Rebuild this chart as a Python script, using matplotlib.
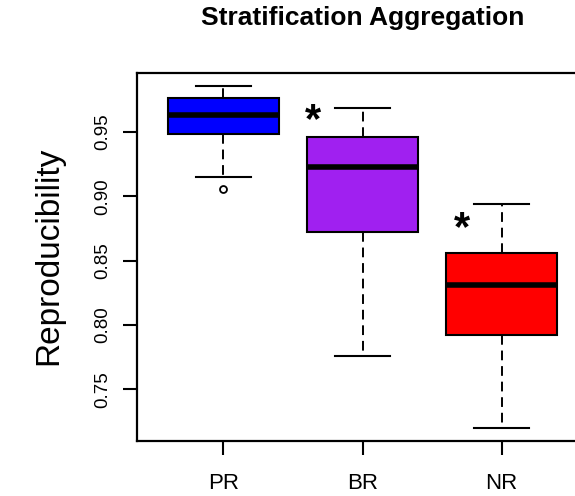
import matplotlib
matplotlib.use("Agg")
import matplotlib.pyplot as plt

categories = ["PR", "BR", "NR"]
whislo = [0.9148, 0.7755, 0.7202]
q1 = [0.9484, 0.8722, 0.7920]
med = [0.9630, 0.9226, 0.8308]
q3 = [0.9767, 0.9463, 0.8557]
whishi = [0.9858, 0.9689, 0.8944]
fliers = [[0.9059], [], []]
colors = ["#0000FF", "#A020F0", "#FF0000"]
yticks = [0.75, 0.80, 0.85, 0.90, 0.95]
ytick_labels = ["0.75", "0.80", "0.85", "0.90", "0.95"]
star_x = [1.645, 2.715]
star_y = [0.9496, 0.866]

plt.rcParams["font.family"] = ["Liberation Sans", "DejaVu Sans"]

fig = plt.figure(figsize=(5.75, 4.96), dpi=100)
ax = fig.add_axes([0.2388, 0.1115, 0.7833, 0.7419])

stats = []
for i, c in enumerate(categories):
    stats.append(dict(label=c, whislo=whislo[i], q1=q1[i], med=med[i],
                      q3=q3[i], whishi=whishi[i], fliers=fliers[i]))

bp = ax.bxp(stats, positions=[1, 2, 3], widths=0.8, patch_artist=True,
            boxprops=dict(linewidth=1.5, edgecolor="black"),
            medianprops=dict(color="black", linewidth=4.0, solid_capstyle="butt"),
            whiskerprops=dict(color="black", linewidth=1.4, linestyle=(0, (5, 3))),
            capprops=dict(color="black", linewidth=1.5),
            flierprops=dict(marker="o", markersize=5, markerfacecolor="none",
                            markeredgecolor="black", markeredgewidth=1.3),
            capwidths=0.4)
for patch, col in zip(bp["boxes"], colors):
    patch.set_facecolor(col)

for x, y in zip(star_x, star_y):
    ax.text(x, y, "*", fontsize=30, fontweight="bold", ha="center", va="baseline")

ax.set_xlim(0.38, 3.62)
ax.set_ylim(0.7100, 0.9961)
ax.set_yticks(yticks)
ax.set_yticklabels(ytick_labels, rotation=90, va="center", fontsize=13.5)
ax.set_xticks([1, 2, 3])
ax.set_xticklabels(categories, fontsize=16)
ax.tick_params(axis="both", length=10, width=1.5, direction="out", color="black")
ax.tick_params(axis="y", pad=9)
ax.tick_params(axis="x", pad=13)
for s in ax.spines.values():
    s.set_linewidth(1.6)

fig.text(49 / 575, 1 - 256 / 496, "Reproducibility", rotation=90,
         ha="center", va="center", fontsize=24)
fig.text(362.5 / 575, 1 - 18 / 496, "Stratification Aggregation",
         ha="center", va="center", fontsize=19, fontweight="bold")

fig.savefig("out.png", dpi=100)
